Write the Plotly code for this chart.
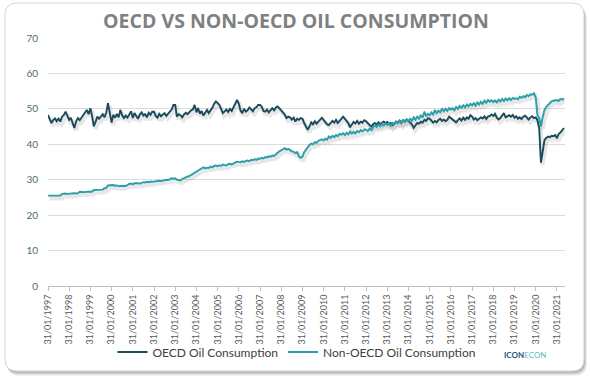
import plotly.graph_objects as go
import pandas as pd

# ---------------- data (monthly, Jan 1997 - May 2021) ----------------
oecd = [
    48.3, 47.0, 46.0, 46.8, 47.3, 46.5, 47.2, 46.4, 47.8, 48.3, 49.2, 48.0,  # 1997
    46.9, 47.5, 46.2, 44.6, 46.5, 47.4, 46.8, 47.5, 48.2, 48.8, 49.7, 48.5,  # 1998
    50.2, 48.0, 45.1, 46.3, 47.8, 47.2, 47.8, 48.5, 47.6, 48.9, 51.6, 49.2,  # 1999
    46.1, 48.3, 47.5, 48.6, 47.6, 49.7, 48.2, 47.4, 48.1, 47.5, 48.6, 49.3,  # 2000
    47.4, 48.8, 48.0, 47.2, 48.4, 49.0, 48.1, 48.5, 47.6, 48.9, 48.3, 49.2,  # 2001
    49.2, 48.0, 47.5, 48.6, 47.9, 48.4, 48.8, 48.0, 48.6, 49.5, 49.8, 51.1,  # 2002
    51.1, 47.8, 48.5, 48.2, 47.6, 48.4, 48.9, 48.5, 49.0, 49.6, 49.8, 51.1,  # 2003
    49.0, 50.2, 48.6, 49.4, 48.1, 49.0, 49.7, 48.8, 49.5, 50.3, 51.4, 52.1,  # 2004
    51.6, 51.1, 50.0, 48.8, 49.3, 49.8, 49.1, 50.0, 49.4, 50.6, 51.5, 52.5,  # 2005
    51.4, 49.5, 48.8, 50.0, 49.2, 49.6, 50.4, 49.8, 49.3, 50.2, 50.5, 51.1,  # 2006
    51.1, 50.6, 49.4, 49.2, 49.8, 49.0, 49.7, 50.2, 49.6, 50.4, 50.7, 50.1,  # 2007
    49.6, 48.8, 48.4, 47.4, 47.8, 47.6, 47.0, 47.5, 46.4, 47.2, 46.9, 47.4,  # 2008
    47.2, 46.0, 45.2, 44.1, 45.0, 46.2, 45.6, 46.5, 45.8, 46.4, 47.0, 47.5,  # 2009
    46.8, 46.2, 45.6, 45.4, 45.9, 46.6, 46.1, 46.9, 46.0, 46.8, 47.2, 47.8,  # 2010
    47.1, 46.5, 46.0, 44.8, 45.6, 46.3, 45.9, 46.6, 45.8, 46.4, 46.1, 46.8,  # 2011
    46.5, 45.8, 45.4, 45.0, 45.7, 46.0, 45.5, 46.2, 45.6, 46.1, 46.4, 46.0,  # 2012
    46.3, 45.7, 46.0, 45.4, 45.9, 46.4, 46.1, 46.7, 46.0, 46.8, 46.5, 47.0,  # 2013
    46.6, 46.0, 45.6, 44.6, 45.3, 46.0, 45.8, 46.4, 46.1, 46.9, 46.6, 47.4,  # 2014
    47.2, 46.8, 46.1, 46.6, 46.2, 46.9, 47.2, 46.6, 47.0, 46.5, 46.9, 47.8,  # 2015
    47.4, 46.8, 46.6, 46.2, 46.8, 47.3, 46.7, 47.5, 46.9, 47.6, 47.2, 48.2,  # 2016
    47.8, 47.0, 47.4, 46.8, 47.2, 47.6, 47.3, 47.9, 47.1, 47.8, 48.0, 48.4,  # 2017
    48.0, 48.6, 47.5, 47.0, 47.4, 48.0, 48.8, 47.6, 47.9, 48.2, 47.8, 48.3,  # 2018
    47.5, 47.9, 47.2, 47.6, 47.1, 47.8, 48.1, 47.4, 47.0, 47.6, 47.9, 47.4,  # 2019
    47.6, 46.8, 44.5, 34.8, 38.9, 41.2, 41.8, 42.2, 42.0, 42.4, 42.3, 42.6,  # 2020
    41.7, 42.9, 43.3, 43.8, 44.6,                                            # 2021
]

non_oecd = [
    25.5, 25.5, 25.4, 25.5, 25.5, 25.5, 25.6, 25.5, 26.0, 26.1, 26.1, 26.0,  # 1997
    26.1, 26.0, 26.1, 26.2, 26.1, 26.2, 26.6, 26.5, 26.6, 26.5, 26.6, 26.6,  # 1998
    26.7, 26.6, 27.1, 27.1, 27.2, 27.1, 27.0, 27.2, 27.6, 27.7, 28.4, 28.5,  # 1999
    28.4, 28.5, 28.3, 28.4, 28.2, 28.3, 28.2, 28.3, 28.2, 28.6, 28.8, 28.9,  # 2000
    28.7, 29.0, 29.1, 29.0, 28.9, 29.1, 29.3, 29.2, 29.4, 29.3, 29.5, 29.4,  # 2001
    29.5, 29.4, 29.6, 29.7, 29.6, 29.8, 29.9, 30.0, 29.9, 30.2, 30.4, 30.3,  # 2002
    30.4, 30.0, 29.9, 29.8, 30.2, 30.5, 30.7, 30.9, 31.0, 31.3, 31.5, 31.8,  # 2003
    32.1, 32.5, 32.8, 33.2, 33.5, 33.2, 33.4, 33.3, 33.7, 33.5, 33.9, 34.0,  # 2004
    33.8, 34.1, 33.9, 34.3, 34.2, 34.0, 34.4, 34.5, 34.3, 34.7, 34.9, 35.1,  # 2005
    35.1, 34.9, 35.2, 35.0, 35.3, 35.4, 35.2, 35.6, 35.5, 35.8, 35.6, 36.0,  # 2006
    35.9, 36.2, 36.0, 36.4, 36.3, 36.6, 36.5, 36.8, 36.7, 37.3, 37.6, 38.0,  # 2007
    38.2, 38.6, 38.9, 38.5, 38.7, 38.3, 38.0, 37.9, 37.5, 37.8, 36.6, 36.2,  # 2008
    36.5, 37.8, 38.6, 39.3, 39.8, 40.2, 40.0, 40.6, 40.4, 41.0, 41.2, 41.4,  # 2009
    41.1, 41.6, 41.3, 42.2, 41.8, 42.4, 42.0, 42.6, 42.3, 42.9, 42.7, 43.1,  # 2010
    42.6, 43.2, 42.8, 43.6, 43.0, 43.5, 43.1, 43.8, 43.4, 44.0, 43.6, 44.2,  # 2011
    44.1, 43.7, 44.4, 44.0, 44.8, 45.5, 44.9, 45.6, 45.1, 45.8, 45.3, 45.9,  # 2012
    45.5, 45.8, 45.2, 46.0, 45.6, 46.4, 45.9, 46.6, 46.0, 46.8, 46.3, 47.0,  # 2013
    46.5, 47.2, 46.6, 47.6, 46.9, 47.8, 47.2, 48.3, 47.5, 49.2, 47.9, 48.6,  # 2014
    48.2, 49.0, 48.4, 49.7, 48.8, 49.5, 49.0, 50.1, 49.3, 50.0, 49.4, 50.2,  # 2015
    49.8, 50.2, 49.6, 50.5, 50.0, 50.8, 50.3, 51.0, 50.4, 51.2, 50.7, 51.4,  # 2016
    51.0, 51.6, 50.9, 51.8, 51.2, 52.0, 51.4, 52.3, 51.7, 52.5, 52.0, 52.4,  # 2017
    51.9, 52.4, 51.8, 52.6, 52.1, 52.8, 52.2, 52.9, 52.4, 53.0, 52.5, 53.1,  # 2018
    52.8, 53.0, 52.7, 53.4, 53.1, 53.6, 53.3, 53.9, 53.6, 54.1, 54.0, 54.4,  # 2019
    53.2, 48.3, 47.4, 45.0, 47.8, 49.7, 50.6, 51.2, 51.6, 52.1, 52.3, 52.5,  # 2020
    52.5, 52.2, 52.8, 52.6, 53.0,                                            # 2021
]

tick_years = list(range(1997, 2022))
tick_dates = [f"{y}-01-31" for y in tick_years]
tick_labels = [f"31/01/{y}" for y in tick_years]
y_ticks = [0, 10, 20, 30, 40, 50, 60, 70]

dates = pd.date_range("1997-01-31", periods=len(oecd), freq=pd.offsets.MonthEnd())

# ---------------- geometry ----------------
W, H = 590, 385
L, R, T, B = 48, 25, 38, 99
PW, PH = W - L - R, H - T - B

def pxx(px):
    return (px - L) / PW

def pxy(py):
    return (H - B - py) / PH

def rounded_path(x0, y0, x1, y1, r):
    X0, X1 = pxx(x0), pxx(x1)
    Y0, Y1 = pxy(y0), pxy(y1)
    rx, ry = r / PW, r / PH
    return (f"M {X0+rx},{Y0} L {X1-rx},{Y0} Q {X1},{Y0} {X1},{Y0-ry} "
            f"L {X1},{Y1+ry} Q {X1},{Y1} {X1-rx},{Y1} L {X0+rx},{Y1} "
            f"Q {X0},{Y1} {X0},{Y1+ry} L {X0},{Y0-ry} Q {X0},{Y0} {X0+rx},{Y0} Z")

x_start = pd.Timestamp("1997-01-31")
x_end = pd.Timestamp("2021-06-18")
span = x_end - x_start
# shadow offset: ~1.5px right, ~2.5px down
dx = span * (1.5 / PW)
dy = 70 * (2.5 / PH)

c_oecd = "#1a4b5b"
c_non = "#2a9fa8"

fig = go.Figure()

# soft shadows (hidden base axes with shifted ranges)
for vals in (oecd, non_oecd):
    fig.add_trace(go.Scatter(x=dates, y=vals, mode="lines", xaxis="x", yaxis="y",
                             line=dict(color="rgba(70,70,70,0.13)", width=4.5),
                             showlegend=False, hoverinfo="skip"))

fig.add_trace(go.Scatter(x=dates, y=oecd, mode="lines", name="OECD Oil Consumption",
                         xaxis="x2", yaxis="y2", line=dict(color=c_oecd, width=1.9)))
fig.add_trace(go.Scatter(x=dates, y=non_oecd, mode="lines", name="Non-OECD Oil Consumption",
                         xaxis="x2", yaxis="y2", line=dict(color=c_non, width=1.9)))

shapes = []
# card shadow
for off, op in [(5, 0.07), (4, 0.10), (3, 0.14), (2, 0.18)]:
    shapes.append(dict(type="path", xref="paper", yref="paper", layer="below",
                       path=rounded_path(5 + off * 0.5, 3 + off, 584 + off * 0.6, 371 + off, 12),
                       fillcolor=f"rgba(90,90,90,{op})", line=dict(width=0)))
shapes.append(dict(type="path", xref="paper", yref="paper", layer="below",
                   path=rounded_path(5, 3, 584, 371, 12),
                   fillcolor="white", line=dict(color="#d6d6d6", width=1)))

fig.update_layout(
    width=W, height=H,
    margin=dict(l=L, r=R, t=T, b=B),
    paper_bgcolor="white", plot_bgcolor="rgba(0,0,0,0)",
    shapes=shapes,
    title=dict(text="OECD VS NON-OECD OIL CONSUMPTION", x=296 / W, xanchor="center",
               y=1 - 21 / H, yanchor="middle", xref="container", yref="container",
               font=dict(family="Open Sans", size=19.5, color="#808080", weight="bold")),
    xaxis=dict(visible=False, range=[x_start - dx, x_end - dx]),
    yaxis=dict(visible=False, range=[0 + dy, 70 + dy]),
    xaxis2=dict(overlaying="x", range=[x_start, x_end], tickvals=tick_dates,
                ticktext=tick_labels, tickangle=-90, showgrid=False,
                showline=True, linecolor="#bfbfbf", linewidth=1,
                ticks="outside", ticklen=4, tickcolor="#bfbfbf",
                tickfont=dict(family="Lato", size=9, color="#595959"), zeroline=False),
    yaxis2=dict(overlaying="y", range=[0, 70], tickvals=y_ticks, showgrid=True,
                gridcolor="#dcdcdc", gridwidth=1, zeroline=False, showline=False,
                ticklabelstandoff=9,
                tickfont=dict(family="Lato", size=10, color="#4a6a7a")),
    legend=dict(orientation="h", x=pxx(297), xanchor="center", y=pxy(352), yanchor="middle",
                font=dict(family="Lato", size=12, color="#404040"), bgcolor="rgba(0,0,0,0)",
                itemwidth=30, tracegroupgap=0),
    annotations=[dict(xref="paper", yref="paper", x=pxx(548), y=pxy(362), showarrow=False,
                      text="<span style='color:#2e4f7a'><b>ICON</b></span>"
                           "<span style='color:#5fb6c2'>ECON</span>",
                      font=dict(family="Lato", size=8))],
    hovermode=False,
)

fig.write_html("out.html", config={"displayModeBar": False},
               post_script="document.body.style.margin='0';document.body.style.overflow='hidden';")
